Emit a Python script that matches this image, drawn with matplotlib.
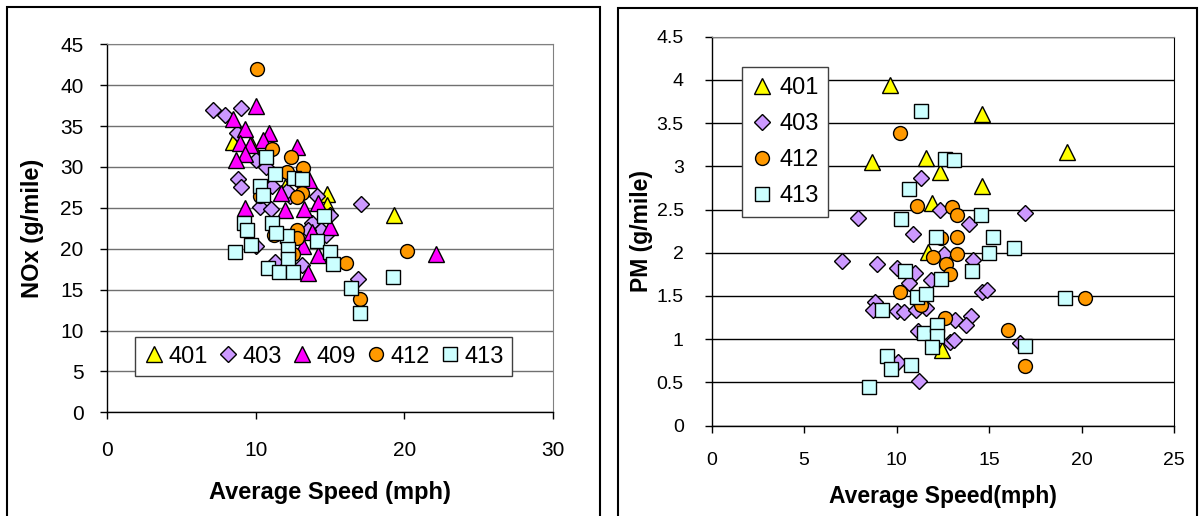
import numpy as np
import matplotlib.pyplot as plt
from matplotlib.patches import Rectangle
from matplotlib.ticker import FuncFormatter

plt.rcParams['font.family'] = ['Liberation Sans', 'DejaVu Sans']

# ---- left chart: NOx vs average speed ----
nox_401_x = [8.5, 9.7, 12.0, 14.8, 14.8, 19.3]
nox_401_y = [33.1, 32.8, 27.6, 26.7, 25.3, 24.1]

nox_403_x = [7.15, 7.95, 9.0, 8.75, 8.8, 9.0, 17.1, 16.85, 10.0, 10.7, 11.1, 10.3,
             11.0, 14.1, 13.8, 15.0, 14.7, 13.1, 11.3, 10.0, 12.3, 12.1, 14.4, 13.0, 13.5]
nox_403_y = [37.0, 36.3, 37.2, 34.1, 28.5, 27.6, 25.5, 16.3, 30.9, 30.0, 27.7, 25.1,
             24.8, 26.5, 23.1, 24.1, 21.7, 18.0, 18.4, 20.3, 26.4, 27.0, 22.3, 28.2, 22.3]

nox_409_x = [10.0, 8.5, 9.3, 10.9, 10.5, 8.95, 9.6, 9.3, 8.7, 12.8, 11.7, 9.3,
             12.0, 13.25, 14.2, 15.0, 13.8, 13.2, 14.2, 13.5, 22.1, 13.6]
nox_409_y = [37.5, 35.9, 34.6, 34.1, 33.3, 32.9, 32.7, 31.6, 30.8, 32.4, 26.8, 25.0,
             24.7, 24.9, 25.6, 22.7, 22.1, 20.3, 19.2, 17.0, 19.3, 28.4]

nox_412_x = [10.1, 11.1, 12.4, 13.2, 12.1, 13.1, 12.8, 10.3, 12.8, 12.8, 11.2, 12.5,
             16.1, 20.2, 17.0]
nox_412_y = [42.0, 32.2, 31.2, 29.9, 29.4, 26.8, 26.3, 26.4, 22.3, 21.3, 21.7, 19.3,
             18.3, 19.7, 13.8]

nox_413_x = [10.7, 11.3, 12.6, 13.1, 10.3, 10.5, 14.6, 9.2, 9.4, 11.1, 12.1, 14.1,
             9.7, 8.6, 15.0, 15.2, 12.2, 12.2, 10.8, 11.6, 12.5, 16.4, 17.0, 19.25, 11.4]
nox_413_y = [31.2, 29.2, 28.7, 28.5, 27.7, 26.6, 24.0, 23.1, 22.3, 23.1, 21.5, 20.9,
             20.5, 19.6, 19.6, 18.1, 20.0, 18.7, 17.7, 17.1, 17.1, 15.2, 12.2, 16.5, 21.9]

# ---- right chart: PM vs average speed ----
pm_401_x = [9.64, 14.64, 8.65, 11.57, 12.34, 19.2, 14.64, 11.94, 11.7, 12.48]
pm_401_y = [3.94, 3.61, 3.05, 3.10, 2.93, 3.17, 2.77, 2.57, 2.01, 0.87]

pm_403_x = [7.93, 7.06, 11.35, 12.34, 16.93, 13.92, 10.9, 12.55, 8.97, 14.14, 10.03,
            10.99, 11.89, 10.68, 14.64, 14.91, 8.83, 8.74, 10.0, 10.41, 11.08, 11.58,
            13.15, 14.05, 13.74, 11.17, 12.88, 13.1, 16.66, 10.09, 11.22]
pm_403_y = [2.40, 1.90, 2.87, 2.49, 2.46, 2.33, 2.22, 1.99, 1.87, 1.91, 1.82,
            1.77, 1.68, 1.65, 1.55, 1.57, 1.43, 1.34, 1.32, 1.31, 1.34, 1.36,
            1.22, 1.27, 1.16, 1.09, 0.97, 0.99, 0.96, 0.74, 0.51]

pm_412_x = [10.18, 11.1, 13.0, 13.27, 12.43, 13.27, 13.27, 12.0, 12.7, 12.88, 10.18,
            11.3, 12.61, 16.03, 16.93, 20.2]
pm_412_y = [3.39, 2.54, 2.53, 2.44, 2.17, 2.18, 1.99, 1.95, 1.87, 1.75, 1.54,
            1.39, 1.24, 1.11, 0.69, 1.47]

pm_413_x = [11.3, 12.6, 13.1, 10.7, 14.59, 10.27, 12.12, 15.22, 16.35, 15.0, 14.1,
            10.45, 12.43, 11.11, 11.62, 9.19, 11.47, 12.19, 12.19, 11.94, 16.93, 9.46,
            9.69, 10.77, 8.52, 19.1]
pm_413_y = [3.64, 3.09, 3.07, 2.74, 2.44, 2.39, 2.18, 2.18, 2.06, 2.0, 1.79,
            1.79, 1.69, 1.49, 1.52, 1.34, 1.07, 1.16, 1.04, 0.91, 0.92, 0.80,
            0.65, 0.70, 0.44, 1.47]

W, H = 1204, 516
fig = plt.figure(figsize=(W / 100, H / 100), dpi=100)


def px_axes(x0, y0, x1, y1):
    # axes from pixel box (top-left origin)
    return fig.add_axes([x0 / W, 1 - y1 / H, (x1 - x0) / W, (y1 - y0) / H])


def style(color, marker, ms):
    return dict(ls='none', marker=marker, ms=ms, mfc=color, mec='black', mew=1.0)


def setup(ax, xmax, xstep, ymax, ystep, fs):
    ax.set_xlim(0, xmax)
    ax.set_ylim(0, ymax)
    ax.set_xticks(np.arange(0, xmax + xstep / 2, xstep))
    ax.set_yticks(np.arange(0, ymax + ystep / 2, ystep))
    ax.yaxis.set_major_formatter(FuncFormatter(lambda v, p: '%g' % round(v, 2)))
    ax.yaxis.grid(True, color='#707070', lw=1.0)
    ax.set_axisbelow(True)
    ax.tick_params(direction='out', length=5, width=1, labelsize=fs, pad=6)
    for s in ['top', 'right']:
        ax.spines[s].set_color('#808080')
    for s in ['left', 'bottom']:
        ax.spines[s].set_color('black')
        ax.spines[s].set_linewidth(1.0)


# left
ax1 = px_axes(107, 44.3, 553, 412.3)
ax1.plot(nox_401_x, nox_401_y, label='401', **style('#FFFF00', '^', 11))
ax1.plot(nox_403_x, nox_403_y, label='403', **style('#CC99FF', 'D', 8))
ax1.plot(nox_409_x, nox_409_y, label='409', **style('#FF00FF', '^', 11))
ax1.plot(nox_412_x, nox_412_y, label='412', **style('#FF9900', 'o', 10))
ax1.plot(nox_413_x, nox_413_y, label='413', **style('#CCFFFF', 's', 10))
setup(ax1, 30, 10, 45, 5, 15)
ax1.tick_params(axis='x', pad=16)
ax1.tick_params(axis='y', pad=12)
ax1.set_xlabel('Average Speed (mph)', fontsize=17, fontweight='bold', va='center')
ax1.xaxis.set_label_coords(0.5, -0.2166)
ax1.set_ylabel('NOx (g/mile)', fontsize=17, fontweight='bold', va='center')
ax1.yaxis.set_label_coords(-0.168, 0.5)
leg1 = ax1.legend(loc='lower left', bbox_to_anchor=(0.063, 0.099), borderaxespad=0,
                  ncol=5, fontsize=17, handlelength=0.9, handletextpad=0.15,
                  columnspacing=0.42, borderpad=0.35, fancybox=False, framealpha=1)
leg1.get_frame().set_edgecolor('#404040')

# right
ax2 = px_axes(711.5, 36.7, 1174, 425.5)
ax2.plot(pm_401_x, pm_401_y, label='401', **style('#FFFF00', '^', 11))
ax2.plot(pm_403_x, pm_403_y, label='403', **style('#CC99FF', 'D', 8))
ax2.plot(pm_412_x, pm_412_y, label='412', **style('#FF9900', 'o', 10))
ax2.plot(pm_413_x, pm_413_y, label='413', **style('#CCFFFF', 's', 10))
setup(ax2, 25, 5, 4.5, 0.5, 14)
ax2.tick_params(axis='x', pad=14)
ax2.tick_params(axis='y', pad=15)
ax2.yaxis.grid(True, color='black', lw=1.0)
ax2.spines['right'].set_color('black')
ax2.set_xlabel('Average Speed(mph)', fontsize=16.5, fontweight='bold', va='center')
ax2.xaxis.set_label_coords(0.5, -0.183)
ax2.set_ylabel('PM (g/mile)', fontsize=16.5, fontweight='bold', va='center')
ax2.yaxis.set_label_coords(-0.151, 0.5)
leg2 = ax2.legend(loc='upper left', bbox_to_anchor=(0.065, 0.921), borderaxespad=0,
                  ncol=1, fontsize=17, handlelength=0.9, handletextpad=0.3,
                  labelspacing=0.6, borderpad=0.4, fancybox=False, framealpha=1)
leg2.get_frame().set_edgecolor('#404040')

# panel frames
fig.add_artist(Rectangle((7 / W, -0.05), (600 - 7) / W, 1.05 - 7 / H,
                         transform=fig.transFigure, fill=False, ec='black', lw=1.5))
fig.add_artist(Rectangle((618 / W, -0.05), (1197 - 618) / W, 1.05 - 8 / H,
                         transform=fig.transFigure, fill=False, ec='black', lw=1.5))

fig.savefig('out.png', dpi=100)
